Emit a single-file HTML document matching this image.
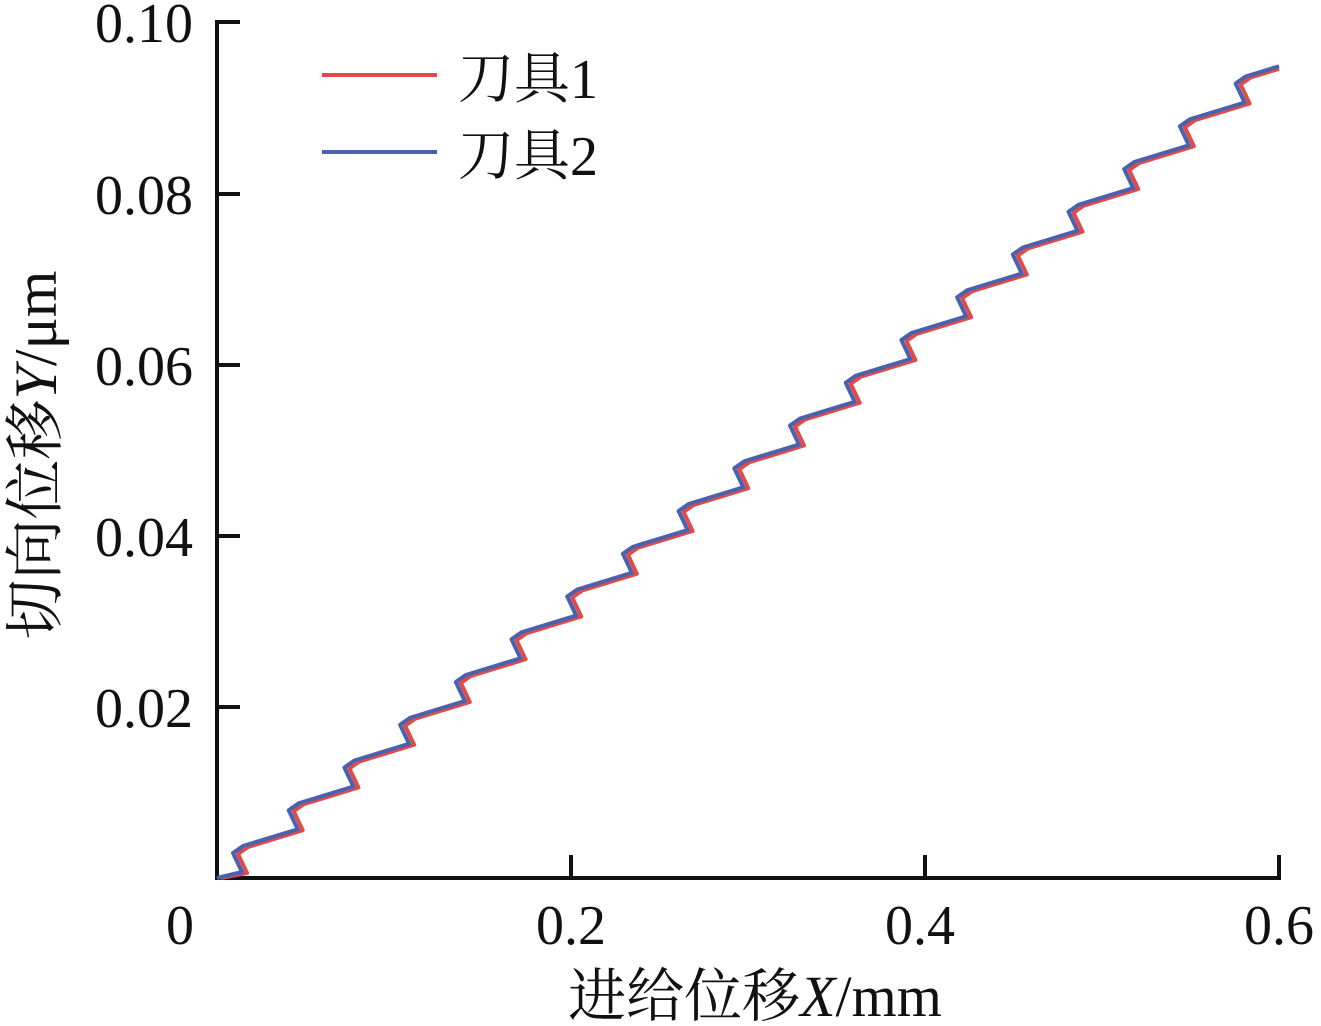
<!DOCTYPE html>
<html><head><meta charset="utf-8"><style>
html,body{margin:0;padding:0;background:#fff;}
svg{display:block;}
</style></head><body>
<svg width="1321" height="1026" viewBox="0 0 1321 1026" xmlns="http://www.w3.org/2000/svg" font-family="'Liberation Serif', 'Times New Roman', 'Noto Serif CJK SC', serif" fill="#111">
<g stroke="#111" stroke-width="4" fill="none">
<path d="M217,20 V878 H1281"/>
<path d="M217,22 H240 M217,194 H240 M217,365 H240 M217,536 H240 M217,707 H240"/>
<path d="M571,878 V855 M925,878 V855 M1279,878 V855"/>
</g>
<g font-size="56" text-anchor="end" font-family="'Liberation Serif', serif">
<text x="193" y="42">0.10</text>
<text x="193" y="214">0.08</text>
<text x="193" y="385">0.06</text>
<text x="193" y="556">0.04</text>
<text x="193" y="727">0.02</text>
</g>
<g font-size="56" text-anchor="middle" font-family="'Liberation Serif', serif">
<text x="180" y="944">0</text>
<text x="571" y="944">0.2</text>
<text x="920" y="944">0.4</text>
<text x="1279" y="944">0.6</text>
</g>
<text x="755" y="1016" font-size="58" text-anchor="middle">进给位移<tspan font-style="italic" font-family="'Liberation Serif', serif">X</tspan><tspan font-family="'Liberation Serif', serif">/mm</tspan></text>
<text transform="translate(56,455) rotate(-90)" font-size="60" text-anchor="middle">切向位移<tspan font-style="italic" font-family="'Liberation Serif', serif">Y</tspan><tspan font-family="'Liberation Serif', serif">/μm</tspan></text>
<line x1="322" y1="75" x2="437" y2="75" stroke="#e04a4a" stroke-width="4"/>
<line x1="322" y1="152" x2="437" y2="152" stroke="#4a62ad" stroke-width="4"/>
<text x="458" y="98" font-size="56">刀具<tspan font-family="'Liberation Serif', serif">1</tspan></text>
<text x="458" y="175" font-size="56">刀具<tspan font-family="'Liberation Serif', serif">2</tspan></text>
<path id="red" fill="none" stroke="#e04a4a" stroke-width="4" stroke-linejoin="round"/>
<path id="blue" fill="none" stroke="#4a62ad" stroke-width="4" stroke-linejoin="round"/>
</svg>
<script>
function mk(dx,dy,sx,sy){
 var d="M"+sx+","+sy;
 for(var k=0;k<19;k++){
  var x=242+55.7*k+dx, yb=872-42.75*k+dy;
  d+=" L"+x+","+yb+" L"+(x-9)+","+(yb-19)+" L"+(x+1)+","+(yb-26);
  var nx=x+55.7, ny=yb-42.75;
  if(nx>1279){ny=(yb-26)+(1279-(x+1))/54.7*(ny-(yb-26));nx=1279;}
  d+=" L"+nx+","+ny;
 }
 return d;
}
document.getElementById("red").setAttribute("d",mk(5,1,221,878));
document.getElementById("blue").setAttribute("d",mk(0,0,217,878));
</script>
</body></html>
